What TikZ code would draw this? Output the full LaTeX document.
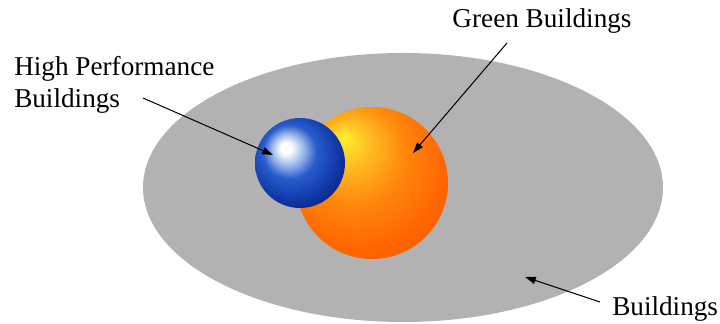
\documentclass[tikz,border=0pt]{standalone}
\usepackage{fontspec}
\setmainfont{Liberation Serif}
\usepackage{tikz}
\usetikzlibrary{arrows.meta}
\definecolor{bldgray}{RGB}{178,178,178}
\definecolor{bluelight}{RGB}{150,180,232}
\definecolor{bluemid}{RGB}{40,92,205}
\definecolor{bluedeep}{RGB}{18,60,172}
\definecolor{bluedark}{RGB}{8,30,125}
\definecolor{oryellow}{RGB}{255,240,45}
\definecolor{orlight}{RGB}{255,190,35}
\definecolor{ormid}{RGB}{255,135,12}
\definecolor{ordeep}{RGB}{255,102,2}
\definecolor{oredge}{RGB}{246,82,0}
\pgfdeclareradialshading{bluesphere}{\pgfpoint{-8.3bp}{8.9bp}}{%
  color(0bp)=(white); color(3bp)=(white); color(9bp)=(bluelight);
  color(15bp)=(bluemid); color(24bp)=(bluedeep); color(33bp)=(bluedark);
  color(50bp)=(bluedark)}
\pgfdeclareradialshading{greensphere}{\pgfpoint{-9.5bp}{15bp}}{%
  color(0bp)=(oryellow); color(7bp)=(orlight); color(17bp)=(ormid);
  color(28bp)=(ordeep); color(40bp)=(oredge); color(50bp)=(oredge)}

\begin{document}
\begin{tikzpicture}[
  x=0.2778mm, y=0.2778mm,
  lbl/.style={inner sep=0pt, font=\fontsize{21.5pt}{25.2pt}\selectfont},
  arr/.style={-{Triangle[length=3mm, width=2mm]}, line width=0.8pt, black}
]
  \useasboundingbox (0,0) rectangle (720,324);

  % sets: buildings, green, high performance
  \coordinate (bldgc)  at (403,136.5);
  \coordinate (greenc) at (372,141);
  \coordinate (hpbc)   at (300,161);
  \fill[bldgray] (bldgc) ellipse [x radius=260, y radius=134.5];
  \shade[shading=greensphere] (greenc) circle (76);
  \shade[shading=bluesphere]  (hpbc) circle (45);

  % labels
  \node[lbl, align=left, anchor=north west] (hpb) at (14,267.7) {High Performance\\Buildings};
  \node[lbl, anchor=base] (green) at (542,296) {Green Buildings};
  \node[lbl, anchor=base west] (bldg) at (612,8) {Buildings};

  \coordinate (hpbfrom)   at (143,226);
  \coordinate (hpbto)     at (273,169);
  \coordinate (greenfrom) at (507,281);
  \coordinate (greento)   at (413,171);
  \coordinate (bldgfrom)  at (600,22);
  \coordinate (bldgto)    at (525,47);
  \draw[arr] (hpbfrom) -- (hpbto);
  \draw[arr] (greenfrom) -- (greento);
  \draw[arr] (bldgfrom) -- (bldgto);
\end{tikzpicture}
\end{document}
